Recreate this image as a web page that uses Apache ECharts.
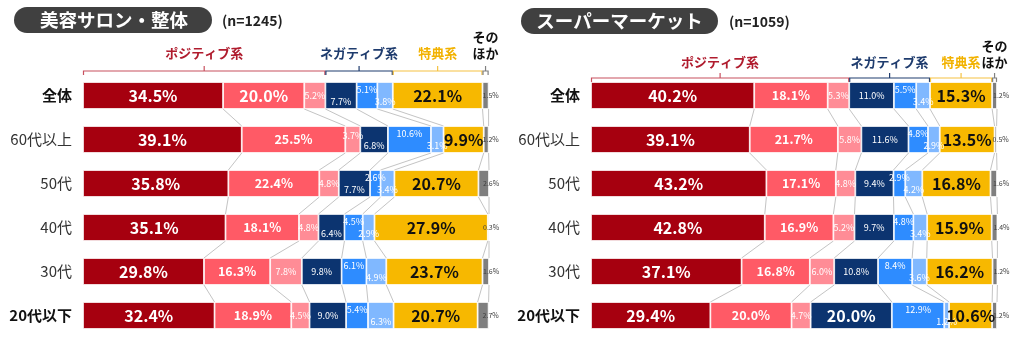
<!DOCTYPE html>
<html><head><meta charset="utf-8">
<script src="https://cdn.jsdelivr.net/npm/echarts@6/dist/echarts.min.js"></script>
<style>html,body{margin:0;padding:0;background:#fff}#c{width:1018px;height:342px}</style>
</head><body><div id="c"></div>
<script>
// ---------- data ----------
const categories = ['全体','60代以上','50代','40代','30代','20代以下'];
const segmentNames = ['ポジティブ1','ポジティブ2','ポジティブ3','ネガティブ1','ネガティブ2','ネガティブ3','特典','そのほか'];
const groupNames = ['ポジティブ系','ネガティブ系','特典系','そのほか'];
const panelTitles = ['美容サロン・整体','スーパーマーケット'];
const panelCounts = ['(n=1245)','(n=1059)'];

// 美容サロン・整体
const salonPos1  = [34.5, 39.1, 35.8, 35.1, 29.8, 32.4];
const salonPos2  = [20.0, 25.5, 22.4, 18.1, 16.3, 18.9];
const salonPos3  = [5.2, 3.7, 4.8, 4.8, 7.8, 4.5];
const salonNeg1  = [7.7, 6.8, 7.7, 6.4, 9.8, 9.0];
const salonNeg2  = [5.1, 10.6, 2.6, 4.5, 6.1, 5.4];
const salonNeg3  = [3.8, 3.1, 3.4, 2.9, 4.9, 6.3];
const salonPerk  = [22.1, 9.9, 20.7, 27.9, 23.7, 20.7];
const salonOther = [1.5, 1.2, 2.6, 0.3, 1.6, 2.7];

// スーパーマーケット
const superPos1  = [40.2, 39.1, 43.2, 42.8, 37.1, 29.4];
const superPos2  = [18.1, 21.7, 17.1, 16.9, 16.8, 20.0];
const superPos3  = [5.3, 5.8, 4.8, 5.2, 6.0, 4.7];
const superNeg1  = [11.0, 11.6, 9.4, 9.7, 10.8, 20.0];
const superNeg2  = [5.5, 4.8, 2.9, 4.8, 8.4, 12.9];
const superNeg3  = [3.4, 2.9, 4.2, 3.4, 3.6, 1.2];
const superPerk  = [15.3, 13.5, 16.8, 15.9, 16.2, 10.6];
const superOther = [1.2, 0.5, 1.6, 1.4, 1.2, 1.2];

// ---------- structure / style ----------
const panels = [
  [salonPos1, salonPos2, salonPos3, salonNeg1, salonNeg2, salonNeg3, salonPerk, salonOther],
  [superPos1, superPos2, superPos3, superNeg1, superNeg2, superNeg3, superPerk, superOther]
];
const groupRanges = [[0,3],[3,6],[6,7],[7,8]];
const FONT = '"Noto Sans CJK JP","Noto Sans",sans-serif';
const BAR = 27;
const segColors = ['#A6000F','#FF5A66','#FF8C96','#0C3470','#2E8CFF','#80B8FF','#F7B800','#7F7F7F'];
const groupLine = ['#C8505F','#1F3C6E','#F5C242','#808080'];
const groupText = ['#B01C2E','#1F3C6E','#F2B200','#111111'];
const gridLeft = [83, 591];
const bracketGap = [11, 4];
const labelGap = [18, 16];
const boldRows = [0, 5];

const baseLabel = [
  {color:'#fff', fontSize:16, fontWeight:'bold'},
  {color:'#fff', fontSize:12.5, fontWeight:'bold'},
  {color:'#fff', fontSize:9},
  {color:'#fff', fontSize:9},
  {color:'#fff', fontSize:9, offset:[0,-6]},
  {color:'#fff', fontSize:9, offset:[0,6]},
  {color:'#111', fontSize:16, fontWeight:'bold'},
  {color:'#404040', fontSize:7, position:'right', distance:0, offset:[-6,0]}
];
// per panel label tweaks: [segment,row] -> override
const labelTweaks = [
  {'1,0': {fontSize:16}, '3,0':{offset:[0,6]}, '3,1':{offset:[0,6]}, '3,2':{offset:[0,6]}, '3,3':{offset:[0,6]}, '2,1':{offset:[0,-4]}},
  {'3,5': {fontSize:16, fontWeight:'bold'}, '7,0':{offset:[-4,0]}, '7,1':{offset:[-4,0]}, '7,2':{offset:[-4,0]}, '7,3':{offset:[-4,0]}, '7,4':{offset:[-4,0]}, '7,5':{offset:[-4,0]}}
];

function cumulative(segs) {
  return categories.map((_, r) => {
    const c = [0];
    segs.forEach((s, k) => c.push(c[k] + s[r]));
    return c;
  });
}

const grids = [], xAxes = [], yAxes = [], series = [];
panels.forEach((segs, p) => {
  grids.push({left: gridLeft[p], top: 73.5, width: 406, height: 264});
  xAxes.push({type:'value', gridIndex:p, min:0, max:100, show:false});
  yAxes.push({
    type:'category', gridIndex:p, data:categories, inverse:true,
    axisLine:{show:false}, axisTick:{show:false}, splitLine:{show:false},
    axisLabel:{
      margin: 11, fontFamily: FONT,
      formatter: (v, i) => boldRows.includes(i) ? '{b|' + v + '}' : '{n|' + v + '}',
      rich: {
        b:{fontSize:15, fontWeight:'bold', color:'#111', fontFamily:FONT},
        n:{fontSize:15, color:'#333', fontFamily:FONT}
      }
    }
  });
  segs.forEach((arr, k) => {
    series.push({
      type:'bar', name: segmentNames[k], stack:'s' + p, xAxisIndex:p, yAxisIndex:p,
      barWidth: BAR, z: 3,
      itemStyle:{color: segColors[k], borderColor:'#fff', borderWidth:0.8},
      label: Object.assign({show:true, position:'inside', fontFamily:FONT,
        formatter: d => d.value.toFixed(1) + '%'}, baseLabel[k]),
      data: arr.map((v, r) => {
        const t = labelTweaks[p][k + ',' + r];
        return t ? {value:v, label:t} : v;
      })
    });
  });
  const cum = cumulative(segs);
  // series lines between bars
  series.push({
    type:'custom', xAxisIndex:p, yAxisIndex:p, z:1, silent:true, clip:false,
    data: categories.slice(0, -1).map((_, i) => [0, i]),
    encode:{x:0, y:1},
    renderItem(params, api) {
      const i = params.dataIndex;
      const children = [];
      for (let k = 1; k <= 8; k++) {
        const a = api.coord([cum[i][k], i]);
        const b = api.coord([cum[i + 1][k], i + 1]);
        children.push({type:'line', shape:{x1:a[0], y1:a[1] + BAR/2, x2:b[0], y2:b[1] - BAR/2},
          style:{stroke:'#C4C4C4', lineWidth:1}});
      }
      return {type:'group', children};
    }
  });
  // group brackets above the first row
  series.push({
    type:'custom', xAxisIndex:p, yAxisIndex:p, z:2, silent:true, clip:false,
    data: [[0, 0]], encode:{x:0, y:1},
    renderItem(params, api) {
      const c = cum[0];
      const yTop = api.coord([0, 0])[1] - BAR/2;
      const yb = yTop - bracketGap[p];
      const children = [];
      groupRanges.forEach((g, gi) => {
        const x0 = api.coord([c[g[0]], 0])[0] + 0.5;
        const x1 = api.coord([c[g[1]], 0])[0] - 0.5;
        const xm = (x0 + x1) / 2;
        children.push({type:'polyline', shape:{points:[[x0, yb + 4],[x0, yb],[x1, yb],[x1, yb + 4]]},
          style:{stroke:groupLine[gi], lineWidth:1.2, fill:null}});
        children.push({type:'line', shape:{x1:xm, y1:yb, x2:xm, y2:yb - 5},
          style:{stroke:groupLine[gi], lineWidth:1.2}});
        const name = groupNames[gi];
        const ty = yb - labelGap[p];
        const txtStyle = {fill:groupText[gi], fontSize:13, fontWeight:'bold', fontFamily:FONT,
          align:'center', verticalAlign:'middle'};
        if (gi === 3) {
          children.push({type:'text', x:xm, y:ty - 16, style:Object.assign({text:name.slice(0, 2)}, txtStyle)});
          children.push({type:'text', x:xm, y:ty, style:Object.assign({text:name.slice(2)}, txtStyle)});
        } else {
          children.push({type:'text', x:xm, y:ty, style:Object.assign({text:name}, txtStyle)});
        }
      });
      return {type:'group', children};
    }
  });
});

const chart = echarts.init(document.getElementById('c'), null, {renderer:'canvas'});
chart.setOption({
  animation:false,
  backgroundColor:'#fff',
  grid: grids, xAxis: xAxes, yAxis: yAxes, series,
  graphic: [
    {type:'rect', shape:{x:14, y:7, width:198, height:26, r:13}, style:{fill:'#404040'}},
    {type:'text', x:114, y:20, style:{text:panelTitles[0], fill:'#fff', fontSize:18.5, fontWeight:'bold', fontFamily:FONT, align:'center', verticalAlign:'middle'}},
    {type:'text', x:222, y:20.5, style:{text:panelCounts[0], fill:'#222', fontSize:14, fontWeight:'bold', fontFamily:FONT, verticalAlign:'middle'}},
    {type:'rect', shape:{x:521, y:8, width:197, height:26, r:13}, style:{fill:'#404040'}},
    {type:'text', x:619.5, y:21, style:{text:panelTitles[1], fill:'#fff', fontSize:18.5, fontWeight:'bold', fontFamily:FONT, align:'center', verticalAlign:'middle'}},
    {type:'text', x:729, y:21.5, style:{text:panelCounts[1], fill:'#222', fontSize:14, fontWeight:'bold', fontFamily:FONT, verticalAlign:'middle'}}
  ]
});
</script></body></html>
